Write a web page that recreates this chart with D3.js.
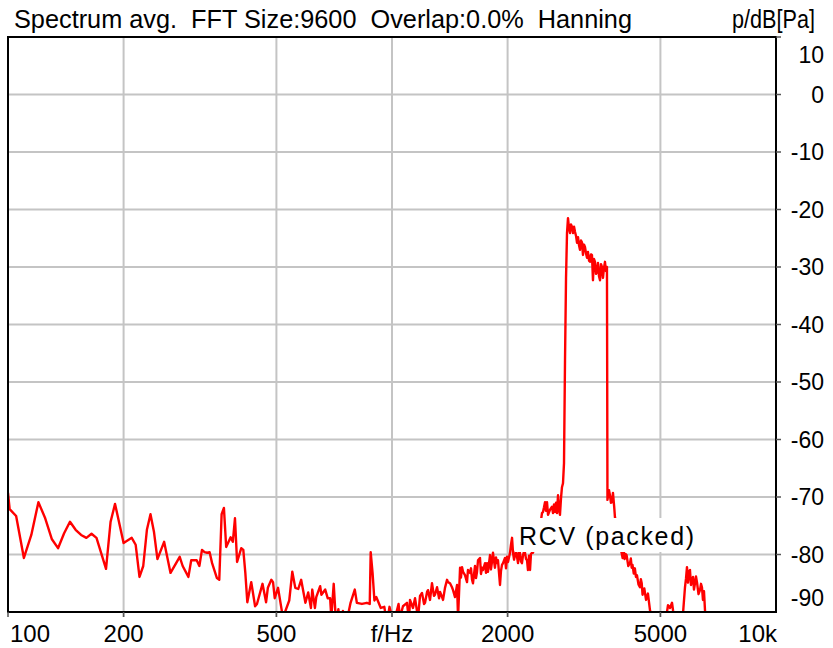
<!DOCTYPE html>
<html><head><meta charset="utf-8">
<script src="https://cdn.jsdelivr.net/npm/d3@7"></script>
<style>
body{margin:0;background:#fff;}
text{font-family:"Liberation Sans",Arial,sans-serif;fill:#000;}
</style>
</head><body>
<svg id="chart" width="833" height="648"></svg>
<script>
// ---------- data ----------
const titleText = "Spectrum avg.  FFT Size:9600  Overlap:0.0%  Hanning";
const unitText = "p/dB[Pa]";
const seriesLabel = "RCV (packed)";

const yTickValues = [10, 0, -10, -20, -30, -40, -50, -60, -70, -80, -90];
const yGridValues = [0, -10, -20, -30, -40, -50, -60, -70, -80];
const xTickValues = [100, 200, 500, 1000, 2000, 5000, 10000];
const xTickLabels = ["100", "200", "500", "f/Hz", "2000", "5000", "10k"];
const xGridValues = [200, 500, 1000, 2000, 5000];

const lowBandHz = [100,101,105,110,115,120,125,130,135,140,145,150,155,160,165,170,180,185,190,200,
  210,215,220,225,230,235,240,245,255,265,280,285,295,300,310,315,320,325,330,335,340,350,355,360,365,370,
  380,385,390,395,405,410,415,420,430,440,445,460,470,475,485,490,495,505,520,540,550,560,570,580,595,605,
  615,620,630,635,650,655,670,680,690,695,705,715,725,735,745,760,780,800,810,835,860,875,880,890,900,910,
  935,955,970,985,1010,1040];
const lowBandDb = [-69.3,-72.1,-73.3,-80.6,-76.6,-70.9,-73.7,-77.3,-78.9,-76.3,-74.3,-75.7,-76.6,-77.1,-76.4,-77.1,-82.5,-74.3,-71.2,-78.0,
  -77.1,-78.3,-83.9,-82.0,-75.7,-73.0,-76.1,-80.8,-77.8,-83.2,-80.4,-82.0,-83.9,-81.0,-81.0,-82.0,-79.2,-79.6,-79.7,-79.6,-81.5,-84.1,-84.4,-73.0,-71.9,-78.7,
  -77.0,-77.8,-73.7,-81.3,-78.9,-79.2,-83.2,-88.3,-84.8,-89.0,-88.6,-85.1,-88.3,-85.8,-84.4,-84.8,-87.6,-85.8,-91.0,-88.0,-83.0,-85.8,-86.0,-84.4,-88.4,-86.6,
  -89.3,-86.1,-89.3,-87.4,-85.5,-87.0,-86.1,-87.6,-87.6,-91.0,-85.1,-92.0,-89.5,-93.0,-89.8,-92.0,-88.4,-86.1,-88.4,-88.6,-88.4,-88.6,-79.6,-83.2,-88.0,-87.4,
  -89.3,-89.1,-92.0,-89.1,-92.0,-88.6];

const midBandHz = [1049,1068,1094,1107,1114,1134,1148,1169,1183,1197,1212,1219,1234,1241,1256,1271,1286,1294,1310,1326,
  1334,1350,1358,1374,1391,1399,1416,1433,1442,1459,1477,1486,1504,1512,1522,1531,1549,1568,1577,1596,1606,1616,
  1625,1645,1655,1665,1675,1695,1705,1716,1726,1747,1757,1768,1778,1800,1810,1821,1832,1854,1866,1877,1888,1911,1922,1934,1946,1969,
  1981,1993,2005,2029,2041,2054,2066,2079,2091,2104,2116,2129,2142,2154,2167,2180,2194,2207,2220,2234,2247,2260,2274,2288,2301,2315,2329,2371,2414,2444];
const midBandDb = [-91.0,-89.0,-88.4,-91.5,-87.9,-89.3,-87.6,-91.0,-87.2,-86.7,-88.6,-88.4,-86.5,-86.2,-87.9,-85.0,-87.2,-87.0,-85.7,-87.6,
  -86.5,-87.4,-87.9,-85.8,-84.4,-84.8,-85.0,-85.7,-86.2,-87.4,-85.3,-91.0,-82.3,-84.0,-82.2,-83.0,-83.6,-84.8,-82.7,-83.2,-82.4,-84.4,
  -85.0,-82.0,-84.1,-83.0,-81.0,-80.6,-83.4,-82.3,-82.7,-81.5,-83.2,-81.5,-83.0,-80.1,-82.6,-81.3,-79.7,-82.3,-80.5,-81.5,-81.0,-85.3,-82.9,-81.8,-81.5,-80.6,
  -82.4,-80.4,-81.3,-79.7,-78.3,-77.1,-79.7,-80.9,-80.1,-79.4,-80.4,-81.5,-79.6,-79.7,-81.2,-81.5,-80.1,-79.5,-79.7,-80.8,-81.0,-82.7,-80.2,-82.7,-79.9,-79.7,-79.7,-77.5,-75.7,-74.0];

const peakBandHz = [2458,2473,2488,2503,2518,2533,2549,2580,2610,2626,2642,2658,2674,2690,2706,2722,2738,2755,2771,2788,2805,2822,2839,2856,2873,2890,2908,2925,2943,2961,
  2979,2997,3015,3033,3051,3069,3087,3106,3124,3143,3162,3181,3200,3220,3239,3259,3278,3298,3317,3337,3357,3378,3398,3418,3439,3460,3481,3502,3522,3543,3564,3586,3607,3629,
  3640,3673,3695,3717,3740,3762,3790,3807];
const peakBandDb = [-72.8,-72.6,-71.8,-70.9,-72.4,-70.9,-73.1,-72.2,-71.7,-72.8,-71.3,-72.6,-71.0,-72.8,-69.7,-72.1,-73.1,-70.2,-68.3,-67.6,-64.1,-46.2,-32.0,-24.1,-21.5,-23.2,-24.1,-22.6,-23.0,-24.1,
  -23.0,-23.9,-24.6,-25.8,-24.8,-26.2,-27.0,-25.4,-25.7,-27.9,-26.1,-26.5,-27.6,-28.4,-27.4,-28.9,-29.1,-27.8,-27.9,-32.3,-28.6,-29.1,-31.2,-30.9,-29.3,-31.6,-32.3,-29.5,-30.0,-31.9,-30.2,-29.1,-30.7,-30.0,
  -70.5,-68.8,-69.7,-71.0,-70.9,-69.3,-71.7,-73.5];

const highBandHz = [3850,3900,3962,3986,4010,4034,4058,4082,4124,4166,4188,4209,4230,4262,4290,4318,4344,4384,4423,4447,4470,4493,4540,4587,4640,4698,4800,5000,5150,5233,5297,
  5361,5393,5500,5700,5794,5829,5864,5900,5935,5970,6006,6042,6079,6115,6152,6189,6226,6283,6340,6378,6415,6454,6493,6533,6600,6700];
const highBandDb = [-75.0,-77.5,-79.7,-80.6,-79.4,-80.8,-79.9,-80.1,-82.0,-81.5,-80.7,-82.3,-81.8,-83.3,-82.4,-83.9,-83.6,-85.2,-85.7,-84.3,-85.0,-87.0,-85.9,-87.9,-86.8,-89.7,-93.0,-94.0,-92.0,-88.8,-89.3,
  -88.4,-89.7,-93.0,-92.0,-85.7,-84.2,-82.2,-84.9,-82.9,-82.7,-85.3,-84.4,-83.9,-86.1,-85.0,-83.8,-84.8,-86.9,-86.2,-85.1,-85.7,-87.9,-86.4,-89.7,-93.0,-94.0];

// ---------- layout ----------
const L = 8, R = 776, T = 37, B = 612;
const svg = d3.select("#chart");
const x = d3.scaleLog().domain([100, 10000]).range([L, R]);
const y = d3.scaleLinear().domain([-90, 10]).range([B, T]);

const data = [];
[[lowBandHz, lowBandDb], [midBandHz, midBandDb], [peakBandHz, peakBandDb], [highBandHz, highBandDb]]
  .forEach(([hz, db]) => hz.forEach((f, i) => data.push({f, v: db[i]})));

// grid
const grid = svg.append("g");
grid.selectAll("line.v").data(xGridValues).join("line")
  .attr("x1", d => x(d)).attr("x2", d => x(d)).attr("y1", T).attr("y2", B + 5)
  .attr("stroke", "#c4c4c4").attr("stroke-width", 2);
grid.selectAll("line.h").data(yGridValues).join("line")
  .attr("x1", L).attr("x2", R).attr("y1", d => y(d)).attr("y2", d => y(d))
  .attr("stroke", "#c4c4c4").attr("stroke-width", 2);

// clip
svg.append("clipPath").attr("id", "plotclip").append("rect")
  .attr("x", L).attr("y", T).attr("width", R - L).attr("height", B - T);

svg.append("path").datum(data)
  .attr("clip-path", "url(#plotclip)")
  .attr("fill", "none").attr("stroke", "#ff0000").attr("stroke-width", 2.4)
  .attr("stroke-linejoin", "round")
  .attr("d", d3.line().x(d => x(d.f)).y(d => y(d.v)));

// series label with white box
svg.append("rect").attr("x", 515).attr("y", 518).attr("width", 183).attr("height", 34).attr("fill", "#fff");
svg.append("text").attr("x", 519).attr("y", 545).attr("font-size", 25)
  .attr("textLength", 175).attr("lengthAdjust", "spacing").text(seriesLabel);

// frame
svg.append("rect").attr("x", L).attr("y", T).attr("width", R - L).attr("height", B - T)
  .attr("fill", "none").attr("stroke", "#000").attr("stroke-width", 2);

// right axis ticks
svg.append("g").selectAll("line").data(yTickValues.slice(0, -1)).join("line")
  .attr("x1", R).attr("x2", R + 5).attr("y1", d => y(d)).attr("y2", d => y(d))
  .attr("stroke", "#555").attr("stroke-width", 1.5);
svg.append("g").selectAll("text").data(yTickValues).join("text")
  .attr("x", 824).attr("text-anchor", "end").attr("font-size", 23)
  .attr("dominant-baseline", "central")
  .attr("y", d => d === 10 ? 55 : (d === -90 ? 598 : y(d)))
  .text(d => d);

// bottom axis ticks
svg.append("g").selectAll("line").data(xTickValues.slice(0, -1)).join("line")
  .attr("x1", d => x(d)).attr("x2", d => x(d)).attr("y1", B).attr("y2", B + 5)
  .attr("stroke", "#555").attr("stroke-width", 1.5);
svg.append("g").selectAll("text").data(xTickValues).join("text")
  .attr("x", (d, i) => i === 0 ? 10 : (i === xTickValues.length - 1 ? 777 : x(d)))
  .attr("text-anchor", (d, i) => i === 0 ? "start" : (i === xTickValues.length - 1 ? "end" : "middle"))
  .attr("y", 642).attr("font-size", 24)
  .text((d, i) => xTickLabels[i]);

// title and unit
svg.append("text").attr("x", 14).attr("y", 28).attr("font-size", 25)
  .attr("textLength", 618).attr("lengthAdjust", "spacingAndGlyphs")
  .style("white-space", "pre").text(titleText);
svg.append("text").attr("x", 732).attr("y", 28).attr("font-size", 25)
  .attr("textLength", 83).attr("lengthAdjust", "spacingAndGlyphs").text(unitText);
</script>
</body></html>
